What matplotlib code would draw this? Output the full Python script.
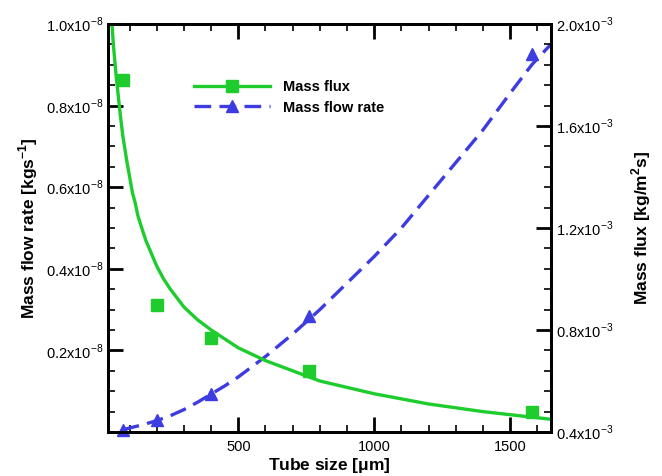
import matplotlib
matplotlib.use("Agg")
import matplotlib.pyplot as plt
from matplotlib.ticker import MultipleLocator, FixedLocator

plt.rcParams['font.family'] = ['Liberation Sans', 'DejaVu Sans']
plt.rcParams['mathtext.fontset'] = 'custom'
plt.rcParams['mathtext.rm'] = 'Liberation Sans'
plt.rcParams['mathtext.bf'] = 'Liberation Sans:bold'

# tube size [um] of the measured points
tube_size = [75, 200, 400, 760, 1580]
# mass flux [1e-3 kg/m2s], right axis
flux_pts = [1.78, 0.90, 0.77, 0.64, 0.478]
# mass flow rate [1e-8 kg/s], left axis
rate_pts = [0.005, 0.03, 0.093, 0.285, 0.927]

# fitted curves
flux_fit_x = [35, 40, 45, 50, 55, 60, 65, 75, 90, 110, 120, 130, 140, 160, 180,
              200, 225, 250, 275, 300, 350, 400, 450, 500, 600, 700, 800, 900,
              1000, 1200, 1400, 1650]
flux_fit_y = [2.0, 1.92, 1.86, 1.80, 1.75, 1.70, 1.65, 1.56, 1.46, 1.34, 1.30,
              1.25, 1.215, 1.15, 1.10, 1.05, 1.00, 0.96, 0.925, 0.89, 0.84, 0.80,
              0.765, 0.73, 0.68, 0.64, 0.60, 0.575, 0.55, 0.51, 0.48, 0.45]
rate_fit_x = [75, 100, 150, 200, 250, 300, 350, 400, 450, 500, 600, 700, 800, 900,
              1000, 1100, 1200, 1300, 1400, 1500, 1580, 1650]
rate_fit_y = [0.005, 0.010, 0.018, 0.028, 0.040, 0.055, 0.073, 0.093, 0.113,
              0.135, 0.185, 0.24, 0.30, 0.365, 0.43, 0.50, 0.58, 0.66, 0.74,
              0.83, 0.90, 0.95]

left_ticks = [0.2, 0.4, 0.6, 0.8, 1.0]
right_ticks = [0.4, 0.8, 1.2, 1.6, 2.0]
x_ticks = [500, 1000, 1500]

green = '#1fcc2e'
blue = '#3c3ce0'

fig = plt.figure(figsize=(6.62, 4.76), dpi=100)
ax = fig.add_axes([0.163, 0.0924, 0.669, 0.8572])
ax2 = ax.twinx()

ax.plot(rate_fit_x, rate_fit_y, color=blue, lw=2.4, ls=(0, (5, 2.5)))
ax.plot(tube_size, rate_pts, ls='none', marker='^', ms=9, color=blue, clip_on=False, zorder=5)

ax2.plot(flux_fit_x, flux_fit_y, color=green, lw=2.4)
ax2.plot(tube_size, flux_pts, ls='none', marker='s', ms=8.5, color=green, clip_on=False, zorder=5)

ax.set_xlim(20, 1650)
ax.set_ylim(0, 1.0)
ax2.set_ylim(0.4, 2.0)

ax.xaxis.set_major_locator(FixedLocator(x_ticks))
ax.xaxis.set_minor_locator(MultipleLocator(100))
ax.yaxis.set_major_locator(FixedLocator(left_ticks))
ax.yaxis.set_minor_locator(MultipleLocator(0.05))
ax2.yaxis.set_major_locator(FixedLocator(right_ticks))
ax2.yaxis.set_minor_locator(MultipleLocator(0.08))

ax.set_xticklabels([str(t) for t in x_ticks])
ax.set_yticklabels([f'{t:.1f}x10$^{{-8}}$' for t in left_ticks])
ax2.set_yticklabels([f'{t:.1f}x10$^{{-3}}$' for t in right_ticks])

ax.tick_params(which='both', direction='in', top=True, right=False, labelsize=10.5, width=1.2)
ax.tick_params(which='major', length=11, width=2)
ax.tick_params(which='minor', length=5)
ax.tick_params(axis='x', pad=6)
ax2.tick_params(which='both', direction='in', labelsize=10.5, width=1.2)
ax2.tick_params(which='major', length=11, width=2)
ax2.tick_params(which='minor', length=5)
for a in (ax, ax2):
    for s in a.spines.values():
        s.set_linewidth(2)

ax.set_xlabel(r'Tube size [$\mathbf{\mu}$m]', fontsize=12.5, fontweight='bold', labelpad=1)
ax.set_ylabel(r'Mass flow rate [kgs$^{\mathbf{-1}}$]', fontsize=12.5, fontweight='bold', labelpad=4)
ax2.set_ylabel(r'Mass flux [kg/m$^{\mathbf{2}}$s]', fontsize=12.5, fontweight='bold', rotation=90, labelpad=12)

# legend handles with marker in the middle
h1, = ax.plot([], [], color=green, lw=2.4, marker='s', ms=8.5)
h2, = ax.plot([], [], color=blue, lw=2.4, ls=(0, (5, 2.5)), marker='^', ms=9)
ax.legend([h1, h2], ['Mass flux', 'Mass flow rate'], loc='upper left',
          bbox_to_anchor=(0.165, 0.895), frameon=False,
          handlelength=5.2, numpoints=1, labelspacing=0.45, handletextpad=0.9,
          prop={'weight': 'bold', 'size': 10.5})

fig.savefig('out.png', dpi=100)
